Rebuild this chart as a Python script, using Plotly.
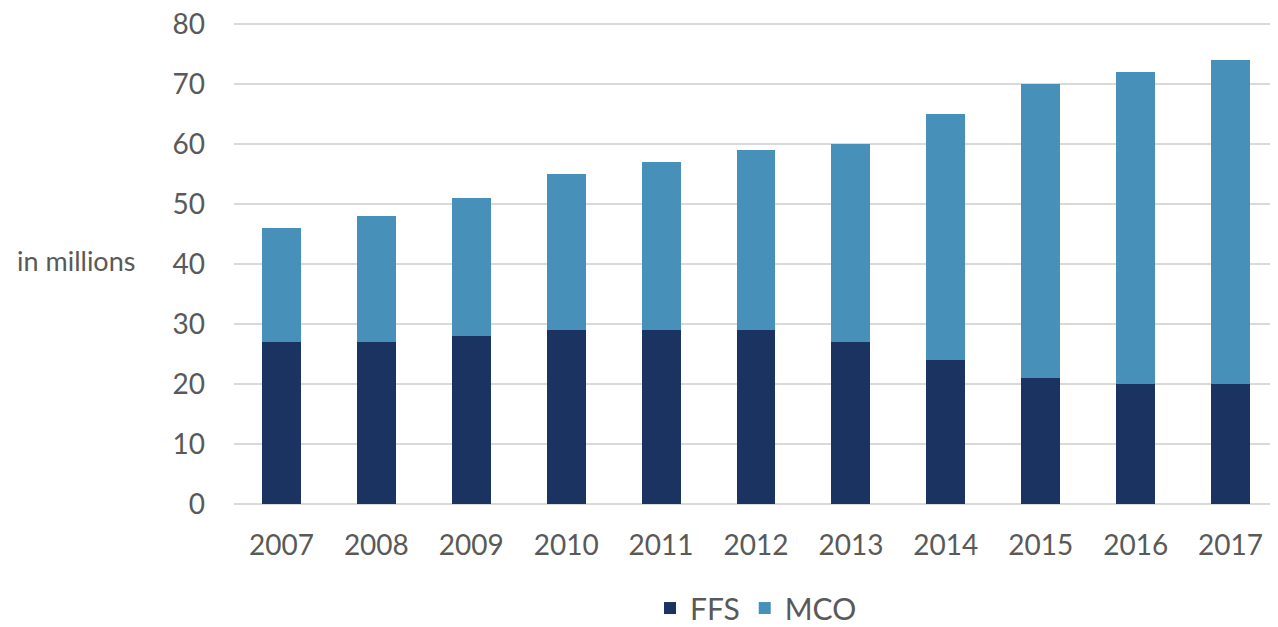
import plotly.graph_objects as go

years = ["2007", "2008", "2009", "2010", "2011", "2012", "2013", "2014", "2015", "2016", "2017"]
ffs = [27, 27, 28, 29, 29, 29, 27, 24, 21, 20, 20]
mco = [19, 21, 23, 26, 28, 30, 33, 41, 49, 52, 54]

font_family = "Lato, Open Sans, sans-serif"
text_color = "#595959"

fig = go.Figure()
fig.add_trace(go.Bar(x=years, y=ffs, name="FFS", marker=dict(color="#1b3360", line=dict(width=0))))
fig.add_trace(go.Bar(x=years, y=mco, name="MCO", marker=dict(color="#4690b9", line=dict(width=0))))

fig.update_layout(
    barmode="stack",
    bargap=0.59,
    width=1278,
    height=627,
    margin=dict(l=226, r=8, t=14, b=131, autoexpand=False),
    plot_bgcolor="white",
    paper_bgcolor="white",
    font=dict(family=font_family, size=27, color=text_color),
    legend=dict(orientation="h", x=0.5, xanchor="center", yref="container", y=0.043,
                yanchor="middle", font=dict(size=30), itemwidth=30, traceorder="normal"),
    xaxis=dict(showgrid=False, showline=False, ticks="", automargin=False,
               ticklabelstandoff=22, tickfont=dict(size=28)),
    yaxis=dict(range=[0, 80.4], dtick=10, showgrid=True, gridcolor="#d9d9d9", gridwidth=2,
               zeroline=True, zerolinecolor="#d9d9d9", zerolinewidth=2, automargin=False,
               ticks="", ticklabelstandoff=28, ticklabeloverflow="allow", tickfont=dict(size=28)),
)

fig.add_annotation(text="in millions", xref="paper", yref="paper", x=-0.21, y=0.505,
                   xanchor="left", yanchor="middle", showarrow=False, font=dict(size=27))

fig.write_html("out.html")
